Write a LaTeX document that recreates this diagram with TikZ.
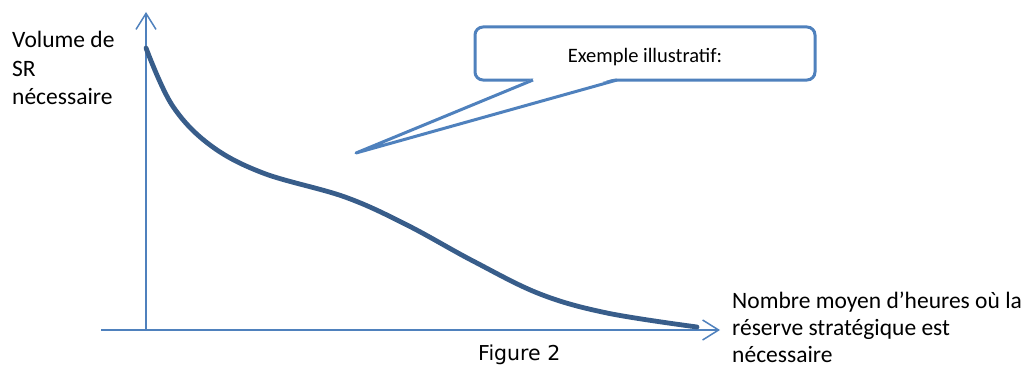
\documentclass[tikz,border=0pt]{standalone}
\usepackage{fontspec}
\setmainfont{Carlito}
\newfontfamily\verd{DejaVu Sans}
\usetikzlibrary{arrows.meta}
\definecolor{axisblue}{HTML}{4F81BD}
\definecolor{curveblue}{HTML}{385D8A}
\begin{document}
\begin{tikzpicture}[x=1pt,y=-1pt,
  axisline/.style={draw=axisblue,line width=1.5pt,-{Straight Barb[length=16pt,width=20pt,line width=1.5pt]}},
  curveline/.style={draw=curveblue,line width=4.8pt,line cap=round},
  calloutbox/.style={draw=axisblue,line width=3pt,rounded corners=8pt,fill=white,minimum width=340pt,minimum height=53pt,inner sep=0pt},
  tailline/.style={draw=axisblue,line width=3pt,line join=round},
  lbl/.style={font=\fontsize{23.5}{28.5}\selectfont,align=left,inner sep=0pt,anchor=north west},
  ctext/.style={font=\fontsize{20.5}{24}\selectfont,inner sep=0pt,anchor=base}
]
\useasboundingbox (0,0) rectangle (1030,369);
% axes
\coordinate (O) at (146,330);
\coordinate (ytop) at (146,12);
\coordinate (xstart) at (101,330);
\coordinate (xend) at (720,330);
\draw[axisline] (O) -- (ytop);
\draw[axisline] (xstart) -- (xend);
% curve
\draw[curveline] plot[smooth,tension=0.6] coordinates {(146,48) (172,105) (210,145) (263,173) (345,197) (407,225) (473,261) (540,294) (607,313) (697,327)};
% labels
\node[lbl] (ylab) at (12,31) {Volume de\\SR\\nécessaire};
\node[lbl,font=\fontsize{23.5}{27}\selectfont] (xlab) at (732,292) {Nombre moyen d’heures où la\\réserve stratégique est\\nécessaire};
\node[font=\verd\fontsize{20.5}{24}\selectfont,inner sep=0pt,anchor=base west] (fig) at (478,360) {Figure 2};
% callout
\node[calloutbox] (callout) at (645,53.5) {};
\coordinate (tailL) at (533,80);
\coordinate (tailR) at (617,80);
\coordinate (tip) at (356,153);
\fill[white] (534.5,78) -- (tip) -- (615.5,78) -- cycle;
\draw[tailline] (tailL) -- (tip) -- (tailR);
\node[ctext] (ct) at (645,63) {Exemple illustratif:};
\end{tikzpicture}
\end{document}
